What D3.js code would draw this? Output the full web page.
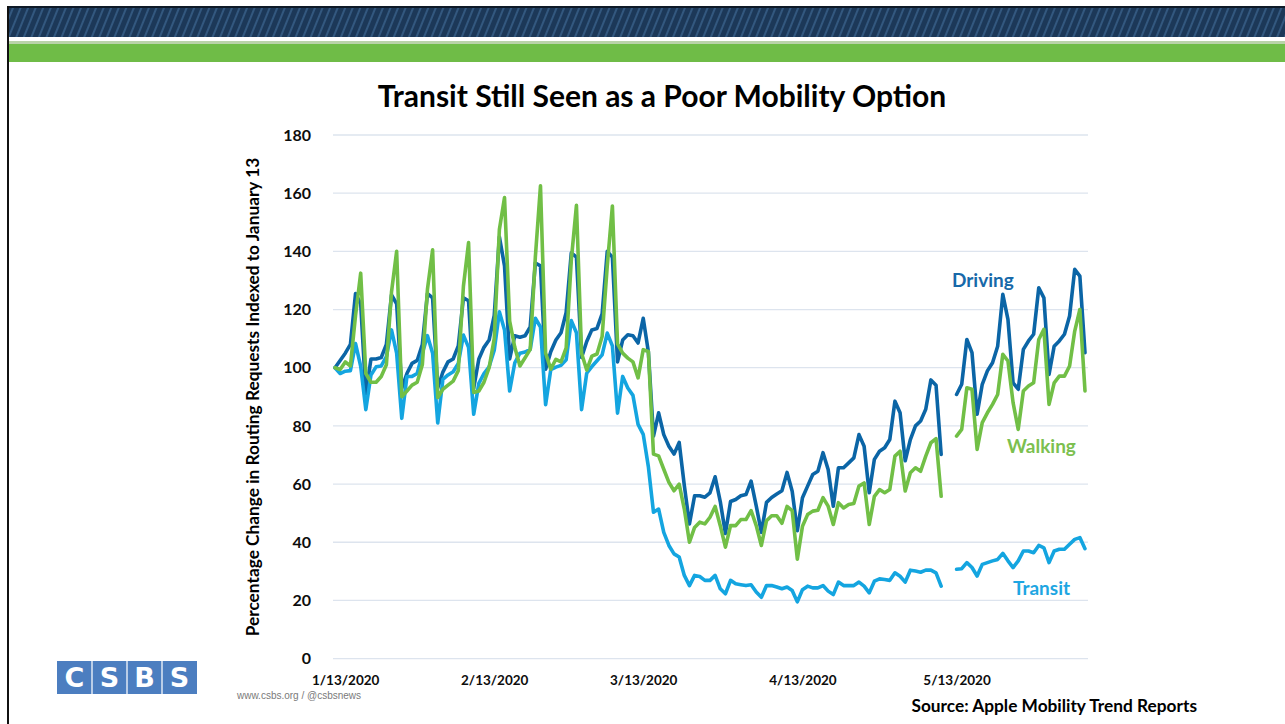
<!DOCTYPE html>
<html><head><meta charset="utf-8">
<script src="https://cdn.jsdelivr.net/npm/d3@7"></script>
<style>
body{margin:0;background:#fff;}
svg{display:block;font-family:Lato,'Open Sans',sans-serif;}
</style>
</head><body>
<svg id="c" width="1285" height="724"></svg>
<script>
// ---------- data (daily index, Jan 13 2020 = 100) ----------
const startDate = new Date(2020, 0, 13);
const driving = [
100,102.5,105,108,125.5,122,91,
103,103,103.5,108,125,122,93,
98,101.5,102.5,108,125.5,124,93,
98.5,102,103,107.5,124,123,93,
103,107,109.5,118,145,135,103,
111,110.5,111,114,136,135,99.5,
105.5,109.5,112,119,139.5,138,103.5,
109,113,113.5,118.5,140,138,102,
109.5,111.3,111,108.5,117,105.5,76.5,
84.5,77,73,70.3,74.3,59.5,46.3,
56,56,55.5,57,62.5,54,43,
54,54.7,56,56.4,61,52.5,43.4,
53.7,55.4,56.6,57.7,64,57.5,44,
55.3,59.3,63.3,64.4,70.8,65,52.4,
65.6,65.6,67.3,69,77,73,57,
68.5,71.3,72.5,75.3,88.5,84.5,68,
75.3,80,81.7,85.7,95.8,94,70.2,
null,null,90.8,94.3,109.7,105.2,84,
94.3,98.9,101.7,107.4,125.2,116.6,94.8,
92.6,106.3,109.2,111.5,127.5,124,97.7,
107.4,109.2,111.5,117.8,133.8,131.5,105.2];
const walking = [
100,99.4,102,100.6,118,132.5,98,
95,95,97,101,126,140,90,
92,94,95,101,127,140.5,89.7,
92.6,94,95.4,99,128,143,91.5,
92,95,100,110,147.5,158.5,116,
107,100.6,103.4,106.3,138,162.5,105,
99.5,102.9,102,106.8,137,155.8,105,
99.2,104,104.7,110.7,135,155.6,108.2,
105,103.3,102,96.5,106.2,105.6,70.3,
69.7,65.1,60.6,57.7,60,51.4,40,
45.1,46.9,46.3,48.6,52.3,45.7,38.3,
45.7,45.7,47.8,47.8,50.9,45.7,38.9,
47.4,49.1,49.1,46.5,52.3,50.9,34.2,
45.5,49.5,50.7,51,55.3,52.4,46.1,
53.6,51.8,53,53.3,59.3,60.4,46.1,
55.8,58.1,57,58.1,69.6,71.3,57.6,
63.9,65.6,64.4,69.6,74.2,75.6,55.8,
null,null,76.5,78.8,93.1,92.6,71.9,
81.1,84.5,87.4,90.8,104.6,102.3,88,
78.8,92,93.7,94.8,109.7,113.2,87.4,
94.8,97.1,97.1,100.6,112.6,120,92];
const transit = [
100,98,98.8,99,108.3,100.5,85.6,
97.5,100.3,100.6,103.8,113,105,82.6,
97,97,98,105,111,105,81,
96,97.5,98.6,101.5,111.2,107,84,
94.6,98,100.3,106,119.2,113,92,
101.7,105,105.4,106.3,117,114,87.3,
99.3,100.2,100.8,102.7,116.2,112,85.6,
98.1,100.4,102.4,104.4,111.9,107.5,84.4,
97,93,90.5,80.5,77.1,66,50.3,
51.4,43.4,38.9,36,34.9,28.6,25.1,
28.6,28.2,26.9,26.9,28.6,24,22.3,
26.9,25.7,25.4,25.1,25.4,22.9,21.1,
25.1,25.1,24.6,24,24.6,23.4,19.5,
23.7,24.9,24.3,24.3,25.1,23.2,22,
26.3,25.1,25.1,25.1,26.3,24.9,22.6,
26.6,27.4,27.2,26.9,29.5,28.3,26.3,
30.4,30.1,29.7,30.4,30.4,29.5,24.9,
null,null,30.7,30.9,33,31.3,28.4,
32.4,33,33.6,34.1,36.2,33.6,31.3,
33.6,37,37,36.4,38.9,38.1,33,
37,37.6,37.6,39.3,41,41.6,37.8];
const seriesNames = ["Driving", "Transit", "Walking"];
const yTicks = [0, 20, 40, 60, 80, 100, 120, 140, 160, 180];
const xTickDates = [new Date(2020,0,13), new Date(2020,1,13), new Date(2020,2,13), new Date(2020,3,13), new Date(2020,4,13)];
const xTickLabels = ["1/13/2020", "2/13/2020", "3/13/2020", "4/13/2020", "5/13/2020"];
const titleText = "Transit Still Seen as a Poor Mobility Option";
const yTitleText = "Percentage Change in Routing Requests Indexed to January 13";
const sourceText = "Source: Apple Mobility Trend Reports";

const dates = driving.map((_, i) => d3.timeDay.offset(startDate, i));
const seriesData = { Driving: driving, Transit: transit, Walking: walking };
const colors = { Driving: "#0b65a6", Transit: "#14a5e0", Walking: "#71bf46" };
const labelColors = { Driving: "#1769a9", Transit: "#1ea6e2", Walking: "#7cc04f" };

const svg = d3.select("#c");

// ---------- header band ----------
const defs = svg.append("defs");
const pat = defs.append("pattern").attr("id", "stripes").attr("patternUnits", "userSpaceOnUse")
  .attr("width", 7).attr("height", 40).attr("patternTransform", "rotate(22)");
pat.append("rect").attr("width", 7).attr("height", 40).attr("fill", "#1c3858");
pat.append("line").attr("x1", 1).attr("x2", 1).attr("y1", 0).attr("y2", 40)
  .attr("stroke", "#3d6590").attr("stroke-width", 1.4);
svg.append("rect").attr("x", 8).attr("y", 7).attr("width", 1277).attr("height", 30).attr("fill", "url(#stripes)");
svg.append("rect").attr("x", 8).attr("y", 6).attr("width", 1277).attr("height", 2).attr("fill", "#0e1a28");
svg.append("rect").attr("x", 8).attr("y", 37).attr("width", 1277).attr("height", 4).attr("fill", "#ffffff");
svg.append("rect").attr("x", 8).attr("y", 41).attr("width", 1277).attr("height", 3).attr("fill", "#b9d3a9");
svg.append("rect").attr("x", 8).attr("y", 44).attr("width", 1277).attr("height", 18).attr("fill", "#6fbc47");
svg.append("rect").attr("x", 7).attr("y", 6).attr("width", 2).attr("height", 718).attr("fill", "#111");

// ---------- scales ----------
const x = d3.scaleTime().domain([dates[0], dates[dates.length - 1]]).range([335, 1085]);
const y = d3.scaleLinear().domain([0, 180]).range([658.6, 135]);

// gridlines
svg.append("g").selectAll("line").data(yTicks).join("line")
  .attr("x1", 333).attr("x2", 1088)
  .attr("y1", d => y(d)).attr("y2", d => y(d))
  .attr("stroke", "#dde4ee").attr("stroke-width", 1.3);

// y axis (labels only)
const yAxis = d3.axisLeft(y).tickValues(yTicks).tickSize(0).tickPadding(0);
const gy = svg.append("g").attr("transform", "translate(311,0)").call(yAxis);
gy.select(".domain").remove();
gy.selectAll("text").attr("font-size", 16).attr("font-weight", 700).attr("fill", "#0d0d0d")
  .attr("font-family", "Lato, sans-serif");

// x axis (labels only)
const xAxis = d3.axisBottom(x).tickValues(xTickDates).tickSize(0).tickPadding(0)
  .tickFormat((d, i) => xTickLabels[i]);
const gx = svg.append("g").attr("transform", "translate(0,675)").call(xAxis);
gx.select(".domain").remove();
gx.selectAll("text").attr("font-size", 13.5).attr("font-weight", 700).attr("fill", "#0d0d0d")
  .attr("font-family", "Lato, sans-serif").attr("dy", "0.71em");
// keep first label inside the chart area (as Excel does)
gx.selectAll("text").each(function () {
  const w = this.getComputedTextLength();
  const tx = +this.parentNode.getAttribute("transform").match(/translate\(([-\d.]+)/)[1];
  if (tx - w / 2 < 312) d3.select(this).attr("x", 312 - (tx - w / 2));
});

// lines
const line = d3.line().defined(v => v != null)
  .x((v, i) => x(dates[i])).y(v => y(v));
svg.append("g").selectAll("path").data(seriesNames).join("path")
  .attr("d", n => line(seriesData[n]))
  .attr("fill", "none").attr("stroke", n => colors[n])
  .attr("stroke-width", 3.6).attr("stroke-linejoin", "round").attr("stroke-linecap", "round");

// series labels
const labelPos = { Driving: [952, 287], Walking: [1007, 453], Transit: [1013, 595] };
svg.append("g").selectAll("text").data(["Driving", "Walking", "Transit"]).join("text")
  .attr("x", n => labelPos[n][0]).attr("y", n => labelPos[n][1])
  .attr("font-size", 19).attr("font-weight", 700).attr("fill", n => labelColors[n])
  .text(n => n);

// title
svg.append("text").attr("x", 662).attr("y", 107).attr("text-anchor", "middle")
  .attr("font-size", 30).attr("font-weight", 700).attr("fill", "#000").text(titleText);

// y title
svg.append("text").attr("transform", "translate(259,397) rotate(-90)").attr("text-anchor", "middle")
  .attr("font-size", 17.3).attr("font-weight", 700).attr("fill", "#000").text(yTitleText);

// source
svg.append("text").attr("x", 1197).attr("y", 712).attr("text-anchor", "end")
  .attr("font-size", 17.3).attr("font-weight", 700).attr("fill", "#000").text(sourceText);

// CSBS logo
const logo = svg.append("g");
logo.append("rect").attr("x", 57).attr("y", 661).attr("width", 140).attr("height", 33).attr("fill", "#4c7ec0");
["C", "S", "B", "S"].forEach((ch, i) => {
  if (i > 0) logo.append("line").attr("x1", 57 + 35 * i).attr("x2", 57 + 35 * i).attr("y1", 661).attr("y2", 694)
    .attr("stroke", "#dfe8f4").attr("stroke-width", 1.5);
  logo.append("text").attr("x", 57 + 35 * i + 17.5).attr("y", 687).attr("text-anchor", "middle")
    .attr("font-family", "DejaVu Sans, sans-serif").attr("font-weight", 700).attr("font-size", 27)
    .attr("fill", "#fff").text(ch);
});
svg.append("text").attr("x", 237).attr("y", 699).attr("font-size", 10).attr("fill", "#7a7a7a")
  .attr("font-family", "Liberation Sans Narrow, Liberation Sans, sans-serif").text("www.csbs.org / @csbsnews");
</script>
</body></html>
